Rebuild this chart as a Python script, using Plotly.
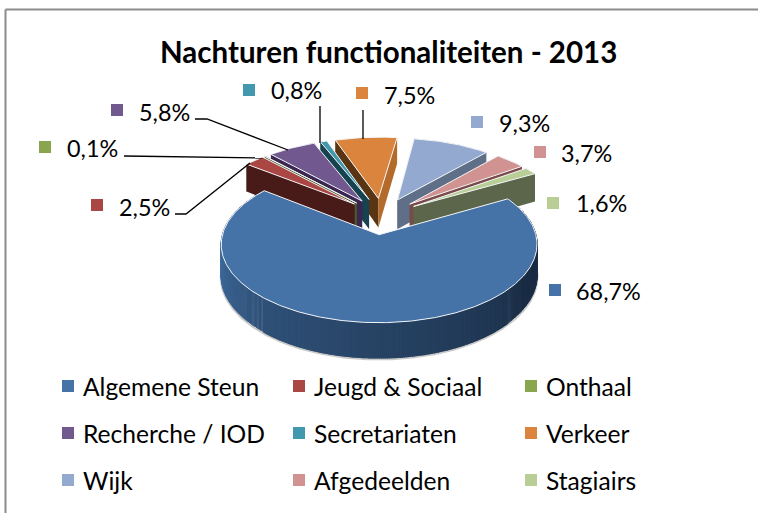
import numpy as np
import plotly.graph_objects as go

categories = ["Algemene Steun", "Jeugd & Sociaal", "Onthaal", "Recherche / IOD", "Secretariaten",
              "Verkeer", "Wijk", "Afgedeelden", "Stagiairs"]
values = [68.7, 2.5, 0.1, 5.8, 0.8, 7.5, 9.3, 3.7, 1.6]
colors = ["#4572A7", "#AA4643", "#89A54E", "#71588F", "#4198AF", "#DB843D", "#93A9CF", "#D19392", "#B9CD96"]
wall_left = ["#3F6C9E", "#481B18", "#4A5A2C", "#3A2650", "#174350", "#5A3514", "#5E6F87", "#7A4A4A", "#5B664B"]
wall_right = ["#1A2D45", "#481B18", "#4A5A2C", "#3A2650", "#174350", "#B36A2B", "#5E6F87", "#7A4A4A", "#5B664B"]

title_text = "Nachturen functionaliteiten - 2013"
FONT = "Lato, Carlito, Calibri, sans-serif"
W, H = 758, 513

# projection of the 3D pie
CX, CY, RX, RY, PERSP, PULL, DEPTH, START = 382, 216, 152, 72.6, 0.12, 0.25, 30, 60.5


def project(u, v, down=0.0):
    s = 1 + PERSP * v
    return CX + RX * u / s, CY - RY * v / s + down / s


def poly(xs, ys, fill, line="rgba(0,0,0,0)", width=0):
    return go.Scatter(x=list(xs), y=list(ys), mode="lines", fill="toself", fillcolor=fill,
                      line=dict(color=line, width=width), hoverinfo="skip", showlegend=False)


def mix(a, b, t):
    ca = [int(a[i:i + 2], 16) for i in (1, 3, 5)]
    cb = [int(b[i:i + 2], 16) for i in (1, 3, 5)]
    return "rgb(%d,%d,%d)" % tuple(round(x + (y - x) * t) for x, y in zip(ca, cb))


total = sum(values)
sweeps = [v / total * 360 for v in values]
starts = START + np.concatenate(([0], np.cumsum(sweeps)[:-1]))
slices = []
for i, (a0, sw) in enumerate(zip(starts, sweeps)):
    mid = np.radians(a0 + sw / 2)
    ax, ay = PULL * np.sin(mid), PULL * np.cos(mid)
    th = np.radians(np.linspace(a0, a0 + sw, max(4, int(sw * 1.5))))
    slices.append((i, ay, ax, th))

fig = go.Figure()
# far slices first, the near ones paint over them
for i, ay, ax, th in sorted(slices, key=lambda s: -s[1]):
    ru, rv = ax + np.sin(th), ay + np.cos(th)
    tx, ty = project(ru, rv)
    bx, by = project(ru, rv, DEPTH)
    apx, apy = project(ax, ay)
    abx, aby = project(ax, ay, DEPTH)
    if i == 0:
        fig.add_trace(go.Scatter(x=bx, y=by + 1, mode="lines", line=dict(color="#C9C9C9", width=3),
                                 hoverinfo="skip", showlegend=False))
        # the rim wall is shaded from left to right
        vis = np.where(rv < 0.35)[0]
        order = vis[np.argsort(tx[vis])]
        for n in range(len(order) - 1):
            a, b = order[n], order[n + 1]
            t = np.clip(n / (len(order) - 2) * 1.25, 0, 1)
            c = mix(wall_left[0], wall_right[0], t)
            fig.add_trace(poly([tx[a], tx[b], bx[b], bx[a], tx[a]], [ty[a], ty[b], by[b], by[a], ty[a]], c, c, 1.2))
    else:
        fig.add_trace(poly(np.r_[tx, bx[::-1], tx[0]], np.r_[ty, by[::-1], ty[0]], wall_right[i]))
        fig.add_trace(poly([apx, tx[0], bx[0], abx, apx], [apy, ty[0], by[0], aby, apy], wall_left[i]))
        fig.add_trace(poly([apx, tx[-1], bx[-1], abx, apx], [apy, ty[-1], by[-1], aby, apy], wall_right[i]))
    fig.add_trace(poly(np.r_[apx, tx, apx], np.r_[apy, ty, apy], colors[i], "#F4F6F8", 1))

# leader lines
leaders = {
    3: ([195, 207, 288], [119, 119, 150]),
    2: ([124, 262], [156, 158]),
    1: ([175, 186, 250], [214, 214, 163]),
    4: ([320, 320], [106, 143]),
    5: ([363, 363], [110, 139]),
}
for lx, ly in leaders.values():
    fig.add_trace(go.Scatter(x=lx, y=ly, mode="lines", line=dict(color="black", width=1.3),
                             hoverinfo="skip", showlegend=False))

label_sq_x = [555, 97, 45, 117, 249, 362, 477, 540, 553]
label_sq_y = [290, 205, 147, 110, 90, 93, 122, 152, 203]
label_tx_x = [574, 117, 65, 137, 269, 382, 497, 559, 574]
label_tx_y = [291, 207, 148, 112, 90, 95, 123, 153, 203]
legend_y = [386, 433, 480]

annotations = [dict(text="<b>%s</b>" % title_text, x=388, y=51, xref="x", yref="y", showarrow=False,
                    font=dict(family=FONT, size=29.5, color="black"))]
for i, v in enumerate(values):
    annotations.append(dict(text=("%.1f%%" % v).replace(".", ","), x=label_tx_x[i], y=label_tx_y[i],
                            xref="x", yref="y", xanchor="left", showarrow=False,
                            font=dict(family=FONT, size=23.4, color="black")))
fig.add_trace(go.Scatter(x=label_sq_x, y=label_sq_y, mode="markers", hoverinfo="skip", showlegend=False,
                         marker=dict(symbol="square", size=12, color=colors)))

# legend grid, row by row
lx_sq, ly_sq = [], []
for i, name in enumerate(categories):
    col, row = i % 3, i // 3
    sx = [68, 299, 531][col]
    lx_sq.append(sx)
    ly_sq.append(legend_y[row])
    annotations.append(dict(text=name, x=sx + 12.5, y=legend_y[row], xref="x", yref="y", xanchor="left",
                            showarrow=False, font=dict(family=FONT, size=24.6, color="black")))
fig.add_trace(go.Scatter(x=lx_sq, y=ly_sq, mode="markers", hoverinfo="skip", showlegend=False,
                         marker=dict(symbol="square", size=12, color=colors)))

fig.update_layout(
    width=W, height=H, margin=dict(l=0, r=0, t=0, b=0), paper_bgcolor="white", plot_bgcolor="white",
    showlegend=False, annotations=annotations,
    xaxis=dict(range=[0, W], visible=False, fixedrange=True),
    yaxis=dict(range=[H, 0], visible=False, fixedrange=True),
    shapes=[dict(type="line", x0=5.5, y0=9.5, x1=5.5, y1=H, xref="x", yref="y",
                 line=dict(color="#8C8C8C", width=2), layer="below"),
            dict(type="line", x0=5.5, y0=9.5, x1=W, y1=9.5, xref="x", yref="y",
                 line=dict(color="#8C8C8C", width=2), layer="below")],
)
fig.write_html("out.html", config=dict(displayModeBar=False),
               post_script="document.body.style.margin='0';document.body.style.overflow='hidden';")
